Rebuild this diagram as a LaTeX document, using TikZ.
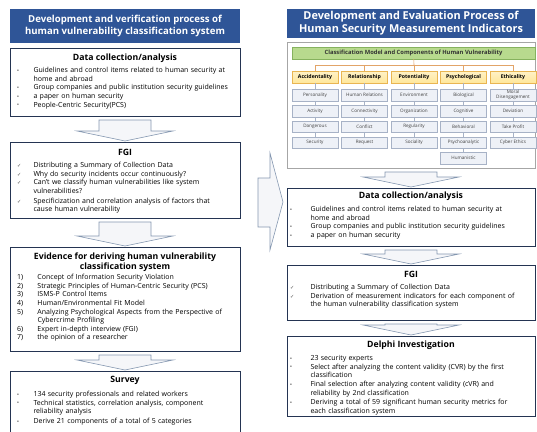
\documentclass[tikz,border=0pt]{standalone}
\usepackage{fontspec}
\setmainfont{Open Sans}
\newfontfamily\symfont{DejaVu Sans}
\usetikzlibrary{calc}

\definecolor{hdrblue}{HTML}{2F5597}
\definecolor{boxline}{HTML}{243452}
\definecolor{arrline}{HTML}{8497B0}
\definecolor{arrfill}{HTML}{F5F6F9}
\definecolor{barfill}{HTML}{B8DA8E}
\definecolor{barline}{HTML}{86B25E}
\definecolor{catfill}{HTML}{FFE79A}
\definecolor{catline}{HTML}{E9B552}
\definecolor{compfill}{HTML}{EEF1F7}
\definecolor{compline}{HTML}{A7B2C6}
\definecolor{treeline}{HTML}{E2A468}

% list entries: marker, then the text in a top-aligned box
\newcommand{\mw}{16.5pt}
\newcommand{\li}[2]{\par\lineskip=0pt\noindent\makebox[\mw][l]{#1}%
  \parbox[t]{\dimexpr\hsize-\mw\relax}{\raggedright\strut #2\strut}}
\newcommand{\bul}{{\fontsize{5}{5}\selectfont\raisebox{0.3pt}{•}}}
\newcommand{\chk}{{\symfont\fontsize{5}{5}\selectfont\color{black!70}✓}}

% block arrow from the bottom of one box to the top of the next
\newcommand{\flowarr}[2]{%
  \draw[blockarrow] let \p1=(#1.south), \p2=(#2.north) in
    (\x1-26pt,\y1-4pt) -- (\x1+26pt,\y1-4pt) -- (\x1+26pt,\y2+11pt) -- (\x1+48pt,\y2+11pt)
    -- (\x1,\y2+1pt) -- (\x1-48pt,\y2+11pt) -- (\x1-26pt,\y2+11pt) -- cycle;}

\tikzset{
  header/.style={fill=hdrblue, text=white, align=center, font=\bfseries\fontsize{9.6}{12}\selectfont},
  stepbox/.style={draw=boxline, line width=1pt, fill=white},
  boxtitle/.style={align=center, font=\bfseries\fontsize{8.7}{10}\selectfont},
  itemlist/.style={anchor=north west, align=left, font=\fontsize{7}{8.6}\selectfont},
  widelist/.style={itemlist, execute at begin node={\renewcommand{\mw}{20.5pt}}},
  blockarrow/.style={draw=arrline, fill=arrfill, line width=0.6pt},
  gbar/.style={draw=barline, fill=barfill, line width=0.5pt, minimum width=243, minimum height=12,
    font=\bfseries\fontsize{5.8}{6}\selectfont, text=black!80},
  catbox/.style={draw=catline, top color=catfill!55, bottom color=catfill, line width=0.5pt,
    minimum width=46, minimum height=12, font=\bfseries\fontsize{5.2}{6}\selectfont},
  compbox/.style={draw=compline, fill=compfill, line width=0.4pt, minimum width=46, minimum height=11.5,
    align=center, font=\fontsize{4.6}{5}\selectfont, text=black!75},
  tree/.style={draw=treeline, line width=0.6pt},
  link/.style={draw=compline, line width=0.4pt}
}

\begin{document}
\begin{tikzpicture}[x=1pt, y=-1pt, every node/.style={inner sep=0, outer sep=0}]
\useasboundingbox (0,0) rectangle (537,431);
\clip (0,0) rectangle (537,431);

% left column
\node[header, minimum width=230, minimum height=34] (headL) at (125,26)
  {Development and verification process of\\human vulnerability classification system};

\node[stepbox, minimum width=230, minimum height=68] (dataL) at (125,82) {};
\node[boxtitle] (dataLt) at (125,58) {Data collection/analysis};
\node[itemlist, text width=223] (dataLi) at (17,64) {%
  \li{\bul}{Guidelines and control items related to human security at\\home and abroad}
  \li{\bul}{Group companies and public institution security guidelines}
  \li{\bul}{a paper on human security}
  \li{\bul}{People-Centric Security(PCS)}};

\node[stepbox, minimum width=230, minimum height=76] (fgiL) at (125,180) {};
\node[boxtitle] (fgiLt) at (125,152) {FGI};
\node[itemlist, text width=223] (fgiLi) at (17,159) {%
  \li{\chk}{Distributing a Summary of Collection Data}
  \li{\chk}{Why do security incidents occur continuously?}
  \li{\chk}{Can’t we classify human vulnerabilities like system\\vulnerabilities?}
  \li{\chk}{Specificization and correlation analysis of factors that\\cause human vulnerability}};

\node[stepbox, minimum width=230, minimum height=104] (evidL) at (125,299) {};
\node[boxtitle] (evidLt) at (125,262)
  {Evidence for deriving human vulnerability\\classification system};
\node[widelist, text width=223] (evidLi) at (17,271) {%
  \li{1)}{Concept of Information Security Violation}
  \li{2)}{Strategic Principles of Human-Centric Security (PCS)}
  \li{3)}{ISMS-P Control Items}
  \li{4)}{Human/Environmental Fit Model}
  \li{5)}{Analyzing Psychological Aspects from the Perspective of\\Cybercrime Profiling}
  \li{6)}{Expert in-depth interview (FGI)}
  \li{7)}{the opinion of a researcher}};

\node[stepbox, minimum width=230, minimum height=74] (survL) at (125,408) {};
\node[boxtitle] (survLt) at (125,380) {Survey};
\node[itemlist, text width=223] (survLi) at (17,388) {%
  \li{\bul}{134 security professionals and related workers}
  \li{\bul}{Technical statistics, correlation analysis, component\\reliability analysis}
  \li{\bul}{Derive 21 components of a total of 5 categories}};

\flowarr{dataL}{fgiL}
\flowarr{fgiL}{evidL}
\flowarr{evidL}{survL}

% arrow across to the right column
\draw[blockarrow] (258,178) -- (270,178) -- (270,153) -- (283,202) -- (270,250) -- (270,227) -- (258,227) -- cycle;

% right column
\node[header, minimum width=248, minimum height=29, font=\bfseries\fontsize{10.9}{13}\selectfont] (headR) at (411,23.5)
  {Development and Evaluation Process of\\Human Security Measurement Indicators};

\node[draw=gray!70, line width=0.7pt, fill=white, minimum width=248, minimum height=126] (panel) at (411,105) {};
\node[gbar] (model) at (413.5,53) {Classification Model and Components of Human Vulnerability};
\coordinate (split) at (414,65);

\node[catbox] (acc) at (315,77) {Accidentality};
\node[catbox] (rel) at (364.5,77) {Relationship};
\node[catbox] (pot) at (414,77) {Potentiality};
\node[catbox] (psy) at (463.5,77) {Psychological};
\node[catbox] (eth) at (513,77) {Ethicality};

\draw[tree] (model) -- (split);
\draw[tree] (split) -| (acc);
\draw[tree] (split) -| (rel);
\draw[tree] (split) -| (pot);
\draw[tree] (split) -| (psy);
\draw[tree] (split) -| (eth);

\node[compbox] (acc1) at (315,95) {Personality};
\node[compbox] (acc2) at (315,111) {Activity};
\node[compbox] (acc3) at (315,126.5) {Dangerous};
\node[compbox] (acc4) at (315,142.5) {Security};
\node[compbox] (rel1) at (364.5,95) {Human Relations};
\node[compbox] (rel2) at (364.5,111) {Connectivity};
\node[compbox] (rel3) at (364.5,126.5) {Conflict};
\node[compbox] (rel4) at (364.5,142.5) {Request};
\node[compbox] (pot1) at (414,95) {Environment};
\node[compbox] (pot2) at (414,111) {Organization};
\node[compbox] (pot3) at (414,126.5) {Regularity};
\node[compbox] (pot4) at (414,142.5) {Sociality};
\node[compbox] (psy1) at (463.5,95) {Biological};
\node[compbox] (psy2) at (463.5,111) {Cognitive};
\node[compbox] (psy3) at (463.5,126.5) {Behavioral};
\node[compbox] (psy4) at (463.5,142.5) {Psychoanalytic};
\node[compbox] (psy5) at (463.5,158) {Humanistic};
\node[compbox] (eth1) at (513,95) {Moral\\Disengagement};
\node[compbox] (eth2) at (513,111) {Deviation};
\node[compbox] (eth3) at (513,126.5) {Take Profit};
\node[compbox] (eth4) at (513,142.5) {Cyber Ethics};

\path[link] (acc) edge (acc1) (acc1) edge (acc2) (acc2) edge (acc3) (acc3) edge (acc4);
\path[link] (rel) edge (rel1) (rel1) edge (rel2) (rel2) edge (rel3) (rel3) edge (rel4);
\path[link] (pot) edge (pot1) (pot1) edge (pot2) (pot2) edge (pot3) (pot3) edge (pot4);
\path[link] (psy) edge (psy1) (psy1) edge (psy2) (psy2) edge (psy3) (psy3) edge (psy4) (psy4) edge (psy5);
\path[link] (eth) edge (eth1) (eth1) edge (eth2) (eth2) edge (eth3) (eth3) edge (eth4);

\node[stepbox, minimum width=248, minimum height=58] (dataR) at (411,217) {};
\node[boxtitle] (dataRt) at (411,196) {Data collection/analysis};
\node[widelist, text width=242] (dataRi) at (290,203) {%
  \li{\bul}{Guidelines and control items related to human security at\\home and abroad}
  \li{\bul}{Group companies and public institution security guidelines}
  \li{\bul}{a paper on human security}};

\node[stepbox, minimum width=248, minimum height=55] (fgiR) at (411,292.5) {};
\node[boxtitle] (fgiRt) at (411,274) {FGI};
\node[widelist, text width=242] (fgiRi) at (290,281) {%
  \li{\chk}{Distributing a Summary of Collection Data}
  \li{\chk}{Derivation of measurement indicators for each component of\\the human vulnerability classification system}};

\node[stepbox, minimum width=248, minimum height=80] (delR) at (411,376) {};
\node[boxtitle] (delRt) at (411,345) {Delphi Investigation};
\node[widelist, text width=242] (delRi) at (290,352) {%
  \li{\bul}{23 security experts}
  \li{\bul}{Select after analyzing the content validity (CVR) by the first\\classification}
  \li{\bul}{Final selection after analyzing content validity (cVR) and\\reliability by 2nd classification}
  \li{\bul}{Deriving a total of 59 significant human security metrics for\\each classification system}};

\flowarr{panel}{dataR}
\flowarr{dataR}{fgiR}
\flowarr{fgiR}{delR}
\end{tikzpicture}
\end{document}
